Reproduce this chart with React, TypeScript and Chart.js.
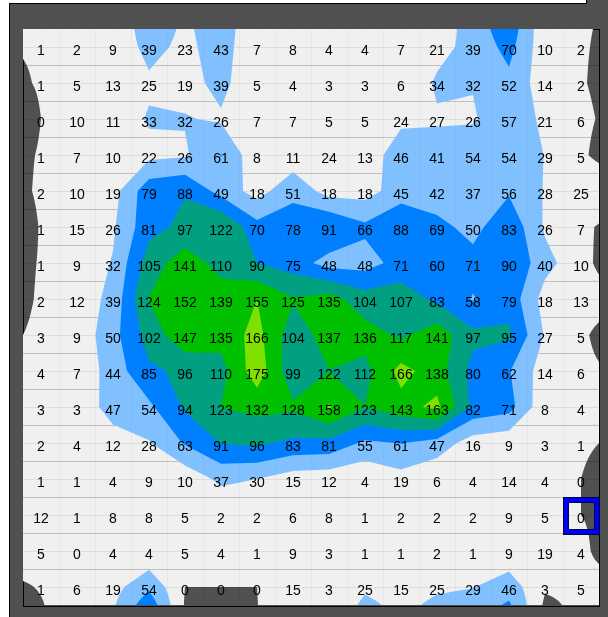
import React, { useEffect, useRef } from 'react';
import { Chart, registerables } from 'chart.js';

Chart.register(...registerables);

// ---- data ----
const columnIndex = [0, 1, 2, 3, 4, 5, 6, 7, 8, 9, 10, 11, 12, 13, 14, 15];
const rowIndex = [0, 1, 2, 3, 4, 5, 6, 7, 8, 9, 10, 11, 12, 13, 14, 15];

const row00 = [1, 2, 9, 39, 23, 43, 7, 8, 4, 4, 7, 21, 39, 70, 10, 2];
const row01 = [1, 5, 13, 25, 19, 39, 5, 4, 3, 3, 6, 34, 32, 52, 14, 2];
const row02 = [0, 10, 11, 33, 32, 26, 7, 7, 5, 5, 24, 27, 26, 57, 21, 6];
const row03 = [1, 7, 10, 22, 26, 61, 8, 11, 24, 13, 46, 41, 54, 54, 29, 5];
const row04 = [2, 10, 19, 79, 88, 49, 18, 51, 18, 18, 45, 42, 37, 56, 28, 25];
const row05 = [1, 15, 26, 81, 97, 122, 70, 78, 91, 66, 88, 69, 50, 83, 26, 7];
const row06 = [1, 9, 32, 105, 141, 110, 90, 75, 48, 48, 71, 60, 71, 90, 40, 10];
const row07 = [2, 12, 39, 124, 152, 139, 155, 125, 135, 104, 107, 83, 58, 79, 18, 13];
const row08 = [3, 9, 50, 102, 147, 135, 166, 104, 137, 136, 117, 141, 97, 95, 27, 5];
const row09 = [4, 7, 44, 85, 96, 110, 175, 99, 122, 112, 166, 138, 80, 62, 14, 6];
const row10 = [3, 3, 47, 54, 94, 123, 132, 128, 158, 123, 143, 163, 82, 71, 8, 4];
const row11 = [2, 4, 12, 28, 63, 91, 96, 83, 81, 55, 61, 47, 16, 9, 3, 1];
const row12 = [1, 1, 4, 9, 10, 37, 30, 15, 12, 4, 19, 6, 4, 14, 4, 0];
const row13 = [12, 1, 8, 8, 5, 2, 2, 6, 8, 1, 2, 2, 2, 9, 5, 0];
const row14 = [5, 0, 4, 4, 5, 4, 1, 9, 3, 1, 1, 2, 1, 9, 19, 4];
const row15 = [1, 6, 19, 54, 0, 0, 0, 15, 3, 25, 15, 25, 29, 46, 3, 5];

const gridValues = [row00, row01, row02, row03, row04, row05, row06, row07,
  row08, row09, row10, row11, row12, row13, row14, row15];

const bandLevels = [0, 30, 60, 90, 122.5, 155];
const bandColors = ['#f0f0f0', '#80c0ff', '#0080ff', '#00a080', '#00c000', '#80e000'];
const belowColor = '#505050';

const highlightRow = 13;
const highlightCol = 15;

// linear extrapolation one step beyond every edge
function extendGrid(g: number[][]): number[][] {
  const C = g[0].length;
  const R = g.length;
  const rows = g.map((r) => [2 * r[0] - r[1], ...r, 2 * r[C - 1] - r[C - 2]]);
  const top = rows[0].map((v, i) => 2 * v - rows[1][i]);
  const bot = rows[R - 1].map((v, i) => 2 * v - rows[R - 2][i]);
  return [top, ...rows, bot];
}

const contourPlugin = {
  id: 'contourBands',
  beforeDraw(chart: any) {
    const ctx = chart.ctx as CanvasRenderingContext2D;
    const W = chart.width;
    const H = chart.height;
    ctx.save();
    ctx.fillStyle = '#ffffff';
    ctx.fillRect(0, 0, W, H);
    ctx.fillStyle = belowColor;
    ctx.fillRect(9, 3, W - 9, H - 3);
    ctx.fillRect(586, 0, W - 586, 3);
    ctx.strokeStyle = '#000';
    ctx.lineWidth = 1;
    ctx.beginPath();
    ctx.moveTo(9.5, H);
    ctx.lineTo(9.5, 3.5);
    ctx.lineTo(586.5, 3.5);
    ctx.lineTo(586.5, 0);
    ctx.stroke();
    ctx.restore();
  },
  beforeDatasetsDraw(chart: any) {
    const ctx = chart.ctx as CanvasRenderingContext2D;
    const a = chart.chartArea;
    const xs = chart.scales.x;
    const ys = chart.scales.y;
    const px = (c: number) => xs.getPixelForValue(c);
    const py = (r: number) => ys.getPixelForValue(r);
    const E = extendGrid(gridValues);
    const nR = E.length;
    const nC = E[0].length;

    ctx.save();
    ctx.fillStyle = belowColor;
    ctx.fillRect(a.left, a.top, a.width, a.height);
    ctx.strokeStyle = '#000';
    ctx.lineWidth = 1;
    ctx.strokeRect(a.left + 0.5, a.top + 0.5, a.width, a.height + 1);

    ctx.beginPath();
    ctx.rect(a.left, a.top, a.width, a.height);
    ctx.clip();

    const trace = (out: number[][]) => {
      if (out.length < 3) return;
      ctx.moveTo(px(out[0][0]), py(out[0][1]));
      for (let k = 1; k < out.length; k++) ctx.lineTo(px(out[k][0]), py(out[k][1]));
      ctx.closePath();
    };
    const cross = (p: number[], q: number[], L: number) => {
      const t = (L - p[2]) / (q[2] - p[2]);
      return [p[0] + t * (q[0] - p[0]), p[1] + t * (q[1] - p[1])];
    };

    const addPoly = (pts: number[][], L: number) => {
      const inn = pts.map((p) => p[2] >= L);
      const saddle = (inn[0] && inn[2] && !inn[1] && !inn[3]) || (inn[1] && inn[3] && !inn[0] && !inn[2]);
      if (saddle) {
        const center = (pts[0][2] + pts[1][2] + pts[2][2] + pts[3][2]) / 4;
        if (center < L) {
          for (let k = 0; k < 4; k++) {
            if (!inn[k]) continue;
            const prev = pts[(k + 3) % 4];
            const next = pts[(k + 1) % 4];
            trace([cross(prev, pts[k], L), [pts[k][0], pts[k][1]], cross(pts[k], next, L)]);
          }
          return;
        }
      }
      const out: number[][] = [];
      for (let k = 0; k < 4; k++) {
        const p = pts[k];
        const q = pts[(k + 1) % 4];
        if (inn[k]) out.push([p[0], p[1]]);
        if (inn[k] !== inn[(k + 1) % 4]) out.push(cross(p, q, L));
      }
      trace(out);
    };

    const fillLevel = (k: number) => {
      const L = bandLevels[k];
      ctx.beginPath();
      for (let i = 0; i < nR - 1; i++) {
        for (let j = 0; j < nC - 1; j++) {
          const v00 = E[i][j];
          const v10 = E[i][j + 1];
          const v11 = E[i + 1][j + 1];
          const v01 = E[i + 1][j];
          const x0 = j - 1;
          const y0 = i - 1;
          const border = i === 0 || j === 0 || i === nR - 2 || j === nC - 2;
          const n = border ? 8 : 1;
          const f = (u: number, w: number) =>
            v00 * (1 - u) * (1 - w) + v10 * u * (1 - w) + v11 * u * w + v01 * (1 - u) * w;
          for (let a1 = 0; a1 < n; a1++) {
            for (let b1 = 0; b1 < n; b1++) {
              const u0 = a1 / n, u1 = (a1 + 1) / n;
              const w0 = b1 / n, w1 = (b1 + 1) / n;
              addPoly([
                [x0 + u0, y0 + w0, f(u0, w0)],
                [x0 + u1, y0 + w0, f(u1, w0)],
                [x0 + u1, y0 + w1, f(u1, w1)],
                [x0 + u0, y0 + w1, f(u0, w1)],
              ], L);
            }
          }
        }
      }
      ctx.fillStyle = bandColors[k];
      ctx.fill('nonzero');
    };

    const lines = (hb: number, hc: number, vb: number, vc: number) => {
      const nCols = columnIndex.length;
      const nRows = rowIndex.length;
      ctx.lineWidth = 1;
      for (let k = 1; k < nRows; k++) {
        const yy = Math.floor(py(k - 0.5)) + 0.5;
        ctx.strokeStyle = `rgba(0,0,0,${hb})`;
        ctx.beginPath(); ctx.moveTo(a.left, yy); ctx.lineTo(a.right, yy); ctx.stroke();
      }
      for (let k = 0; k < nRows; k++) {
        const yy = Math.floor(py(k)) + 0.5;
        ctx.strokeStyle = `rgba(0,0,0,${hc})`;
        ctx.beginPath(); ctx.moveTo(a.left, yy); ctx.lineTo(a.right, yy); ctx.stroke();
      }
      for (let k = 1; k < nCols; k++) {
        const xx = Math.floor(px(k - 0.5)) + 0.5;
        ctx.strokeStyle = `rgba(0,0,0,${vb})`;
        ctx.beginPath(); ctx.moveTo(xx, a.top); ctx.lineTo(xx, a.bottom); ctx.stroke();
      }
      for (let k = 0; k < nCols; k++) {
        const xx = Math.floor(px(k)) + 0.5;
        ctx.strokeStyle = `rgba(0,0,0,${vc})`;
        ctx.beginPath(); ctx.moveTo(xx, a.top); ctx.lineTo(xx, a.bottom); ctx.stroke();
      }
    };

    fillLevel(0);
    lines(0.2, 0.08, 0.015, 0.015);
    for (let k = 1; k < bandLevels.length; k++) fillLevel(k);
    lines(0, 0, 0.025, 0);
    ctx.restore();
  },
  afterDatasetsDraw(chart: any) {
    const ctx = chart.ctx as CanvasRenderingContext2D;
    const xs = chart.scales.x;
    const ys = chart.scales.y;
    ctx.save();
    ctx.fillStyle = '#000';
    ctx.font = '14px "Liberation Sans", Arial, sans-serif';
    ctx.textAlign = 'center';
    ctx.textBaseline = 'alphabetic';
    gridValues.forEach((row, r) => {
      row.forEach((v, c) => {
        ctx.fillText(String(v), xs.getPixelForValue(columnIndex[c]), ys.getPixelForValue(rowIndex[r]) + 7.5);
      });
    });
    // highlighted cell
    const x0 = Math.round(xs.getPixelForValue(highlightCol - 0.5));
    const x1 = Math.round(xs.getPixelForValue(highlightCol + 0.5));
    const y0 = Math.round(ys.getPixelForValue(highlightRow - 0.5));
    const y1 = Math.round(ys.getPixelForValue(highlightRow + 0.5));
    ctx.lineWidth = 1;
    ctx.strokeStyle = '#000040';
    ctx.strokeRect(x0 + 0.5, y0 + 0.5, x1 - x0, y1 - y0 + 1);
    ctx.lineWidth = 4;
    ctx.strokeStyle = '#0000f0';
    ctx.strokeRect(x0 + 3, y0 + 3, x1 - x0 - 5, y1 - y0 - 4);
    ctx.lineWidth = 1;
    ctx.strokeStyle = '#000060';
    ctx.strokeRect(x0 + 5.5, y0 + 5.5, x1 - x0 - 10, y1 - y0 - 9);
    ctx.restore();
  },
};

export default function App() {
  const canvasRef = useRef<HTMLCanvasElement | null>(null);

  useEffect(() => {
    if (!canvasRef.current) return;
    const points = gridValues.flatMap((row, r) =>
      row.map((v, c) => ({ x: columnIndex[c], y: rowIndex[r], v })));
    const chart = new Chart(canvasRef.current, {
      type: 'scatter',
      data: {
        datasets: [{
          data: points as any,
          pointRadius: 0,
          pointHoverRadius: 0,
          showLine: false,
        }],
      },
      options: {
        animation: false,
        responsive: false,
        devicePixelRatio: 1,
        layout: { padding: { left: 23, top: 29, right: 9, bottom: 12 } },
        events: [],
        plugins: {
          legend: { display: false },
          tooltip: { enabled: false },
        },
        scales: {
          x: { type: 'linear', min: -0.5, max: 15.5, display: false },
          y: { type: 'linear', min: -0.5, max: 15.5, reverse: true, display: false },
        },
      },
      plugins: [contourPlugin],
    });
    return () => chart.destroy();
  }, []);

  return (
    <div style={{ position: 'fixed', left: 0, top: 0, width: 608, height: 617 }}>
      <canvas ref={canvasRef} width={608} height={617} style={{ display: 'block' }} />
    </div>
  );
}
